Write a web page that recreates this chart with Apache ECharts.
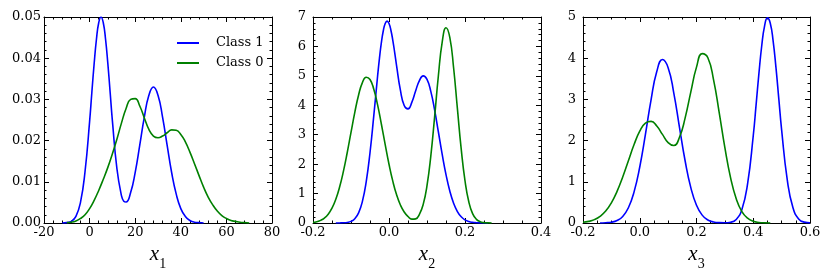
<!DOCTYPE html>
<html><head><meta charset="utf-8">
<script src="https://cdn.jsdelivr.net/npm/echarts@6/dist/echarts.min.js"></script>
<style>html,body{margin:0;padding:0;background:#fff}#c{width:831px;height:280px}</style>
</head><body><div id="c"></div>
<script>
// ---------- data ----------
const seriesNames = ['Class 1', 'Class 0'];

// panel 1 : x1
const x1Ticks = [-20, 0, 20, 40, 60, 80];
const x1Labels = ['-20', '0', '20', '40', '60', '80'];
const y1Ticks = [0, 0.01, 0.02, 0.03, 0.04, 0.05];
const y1Labels = ['0.00', '0.01', '0.02', '0.03', '0.04', '0.05'];
const x1Blue = [-12,-10,-8,-6,-4,-2,0,1,2,3,4,5,6,7,8,9,10,12,14,15,16,18,20,22,24,26,28,30,32,34,36,38,40,42,44,46,48,50];
const y1Blue = [0.0000,0.0001,0.0004,0.0016,0.0050,0.0125,0.0246,0.0318,0.0387,0.0446,0.0486,0.0500,0.0486,0.0446,0.0387,0.0318,0.0248,0.0131,0.0066,0.0053,0.0051,0.0074,0.0123,0.0189,0.0257,0.0310,0.0330,0.0310,0.0257,0.0189,0.0122,0.0070,0.0035,0.0016,0.0006,0.0002,0.0001,0.0000];
const x1Green = [-10,-8,-6,-4,-2,0,2,4,6,8,10,12,14,16,18,20,22,24,26,28,30,32,34,36,38,40,42,44,46,48,50,52,54,56,58,60,62,64,66,68,70];
const y1Green = [0.0001,0.0002,0.0005,0.0011,0.0020,0.0035,0.0055,0.0079,0.0106,0.0135,0.0168,0.0204,0.0243,0.0278,0.0300,0.0302,0.0284,0.0255,0.0227,0.0211,0.0207,0.0211,0.0219,0.0226,0.0225,0.0215,0.0197,0.0172,0.0144,0.0115,0.0087,0.0063,0.0044,0.0029,0.0018,0.0011,0.0006,0.0004,0.0002,0.0001,0.0000];

// panel 2 : x2
const x2Ticks = [-0.2, 0, 0.2, 0.4];
const x2Labels = ['-0.2', '0.0', '0.2', '0.4'];
const y2Ticks = [0, 1, 2, 3, 4, 5, 6, 7];
const y2Labels = ['0', '1', '2', '3', '4', '5', '6', '7'];
const x2Blue = [-0.14,-0.13,-0.12,-0.11,-0.10,-0.09,-0.08,-0.07,-0.06,-0.05,-0.04,-0.03,-0.025,-0.02,-0.015,-0.01,-0.005,0.00,0.005,0.01,0.015,0.02,0.03,0.04,0.05,0.06,0.07,0.08,0.09,0.10,0.11,0.12,0.13,0.14,0.15,0.16,0.17,0.18,0.19,0.20,0.21,0.22,0.23,0.24,0.25,0.26];
const y2Blue = [0.000,0.002,0.006,0.018,0.055,0.145,0.345,0.734,1.399,2.388,3.647,4.994,5.610,6.134,6.532,6.780,6.860,6.779,6.551,6.209,5.790,5.341,4.512,3.992,3.877,4.099,4.486,4.839,4.999,4.879,4.471,3.842,3.092,2.331,1.645,1.087,0.673,0.390,0.211,0.107,0.051,0.023,0.010,0.004,0.001,0.000];
const x2Green = [-0.20,-0.19,-0.18,-0.17,-0.16,-0.15,-0.14,-0.13,-0.12,-0.11,-0.10,-0.09,-0.08,-0.07,-0.06,-0.05,-0.04,-0.03,-0.02,-0.01,0.00,0.01,0.02,0.03,0.04,0.05,0.06,0.07,0.08,0.09,0.10,0.11,0.12,0.13,0.14,0.15,0.16,0.17,0.18,0.19,0.20,0.21,0.22,0.23,0.24,0.25,0.26,0.27];
const y2Green = [0.021,0.045,0.089,0.167,0.298,0.503,0.805,1.221,1.754,2.387,3.078,3.760,4.351,4.771,4.955,4.875,4.544,4.013,3.356,2.660,1.997,1.421,0.957,0.612,0.372,0.222,0.130,0.140,0.296,0.632,1.270,2.275,3.599,5.012,6.147,6.636,6.305,5.275,3.884,2.517,1.436,0.721,0.319,0.124,0.043,0.013,0.003,0.001];

// panel 3 : x3
const x3Ticks = [-0.2, 0, 0.2, 0.4, 0.6];
const x3Labels = ['-0.2', '0.0', '0.2', '0.4', '0.6'];
const y3Ticks = [0, 1, 2, 3, 4, 5];
const y3Labels = ['0', '1', '2', '3', '4', '5'];
const x3Blue = [-0.14,-0.12,-0.10,-0.08,-0.06,-0.04,-0.02,0.00,0.02,0.04,0.06,0.08,0.10,0.12,0.14,0.16,0.18,0.20,0.22,0.24,0.26,0.28,0.30,0.32,0.34,0.36,0.38,0.40,0.41,0.42,0.43,0.44,0.45,0.46,0.47,0.48,0.49,0.50,0.52,0.54,0.56,0.58,0.60];
const y3Blue = [0.001,0.006,0.020,0.061,0.160,0.370,0.756,1.359,2.151,2.997,3.675,3.968,3.770,3.154,2.322,1.505,0.859,0.431,0.191,0.074,0.025,0.008,0.005,0.018,0.087,0.327,0.950,2.118,2.866,3.631,4.308,4.786,4.978,4.849,4.420,3.777,3.020,2.262,1.041,0.369,0.100,0.021,0.003];
const x3Green = [-0.20,-0.18,-0.16,-0.14,-0.12,-0.10,-0.08,-0.06,-0.04,-0.02,0.00,0.02,0.04,0.06,0.08,0.10,0.12,0.14,0.16,0.18,0.20,0.22,0.24,0.26,0.28,0.30,0.32,0.34,0.36,0.38,0.40,0.42,0.44,0.46];
const y3Green = [0.017,0.039,0.082,0.160,0.290,0.489,0.767,1.117,1.512,1.904,2.228,2.427,2.467,2.355,2.150,1.950,1.880,2.080,2.552,3.183,3.783,4.111,4.010,3.482,2.680,1.828,1.102,0.588,0.277,0.116,0.043,0.014,0.004,0.001];

const axisNames = ['1', '2', '3'];

// ---------- chart construction ----------
const BLUE = '#0000ff', GREEN = '#008000';
const TICK_FONT = 'DejaVu Serif';
const grids = [
  { left: 44, top: 17, width: 228, height: 206 },
  { left: 313, top: 17, width: 228, height: 206 },
  { left: 583, top: 17, width: 227, height: 206 }
];
const panels = [
  { xt: x1Ticks, xl: x1Labels, yt: y1Ticks, yl: y1Labels, xMinor: 5, yMinor: 5, yMargin: 3,
    blue: [x1Blue, y1Blue], green: [x1Green, y1Green] },
  { xt: x2Ticks, xl: x2Labels, yt: y2Ticks, yl: y2Labels, xMinor: 4, yMinor: 5, yMargin: 7,
    blue: [x2Blue, y2Blue], green: [x2Green, y2Green] },
  { xt: x3Ticks, xl: x3Labels, yt: y3Ticks, yl: y3Labels, xMinor: 4, yMinor: 5, yMargin: 7,
    blue: [x3Blue, y3Blue], green: [x3Green, y3Green] }
];

function fmt(ticks, labels) {
  return function (v) {
    const i = ticks.findIndex(t => Math.abs(t - v) < 1e-9);
    return i >= 0 ? labels[i] : '';
  };
}
function baseAxis(gi, ticks, labels, minor, position, showLabel, margin) {
  return {
    type: 'value', gridIndex: gi, position: position,
    min: ticks[0], max: ticks[ticks.length - 1], interval: ticks[1] - ticks[0],
    axisLine: { show: true, onZero: false, lineStyle: { color: '#000', width: 1 } },
    axisTick: { show: true, inside: true, length: 5, lineStyle: { color: '#000', width: 1 } },
    minorTick: { show: true, splitNumber: minor, length: 2.5, lineStyle: { color: '#000', width: 1 } },
    splitLine: { show: false }, minorSplitLine: { show: false },
    axisLabel: { show: showLabel, margin: margin, color: '#000', fontFamily: TICK_FONT, fontSize: 13,
      formatter: fmt(ticks, labels), showMinLabel: true, showMaxLabel: true },
    axisPointer: { show: false }
  };
}

const xAxis = [], yAxis = [], series = [];
panels.forEach((p, gi) => {
  const xb = baseAxis(gi, p.xt, p.xl, p.xMinor, 'bottom', true, 3);
  xb.name = '{i|x}{s|' + axisNames[gi] + '}';
  xb.nameLocation = 'middle';
  xb.nameGap = 13;
  xb.nameTextStyle = { rich: {
    i: { fontFamily: 'Liberation Serif', fontStyle: 'italic', fontSize: 21, color: '#000' },
    s: { fontFamily: 'Liberation Serif', fontSize: 14, color: '#000', padding: [20, 0, 0, 0] }
  } };
  xAxis.push(xb);
  xAxis.push(baseAxis(gi, p.xt, p.xl, p.xMinor, 'top', false, 3));
  yAxis.push(baseAxis(gi, p.yt, p.yl, p.yMinor, 'left', true, p.yMargin));
  yAxis.push(baseAxis(gi, p.yt, p.yl, p.yMinor, 'right', false, 3));
  [[p.blue, BLUE, seriesNames[0]], [p.green, GREEN, seriesNames[1]]].forEach(([d, col, nm]) => {
    series.push({
      type: 'line', name: nm, xAxisIndex: gi * 2, yAxisIndex: gi * 2,
      data: d[0].map((x, k) => [x, d[1][k]]),
      showSymbol: false, symbol: 'none', smooth: 0.5,
      lineStyle: { color: col, width: 1.6 }, itemStyle: { color: col },
      clip: true, silent: true, z: 3
    });
  });
});

const chart = echarts.init(document.getElementById('c'), null, { renderer: 'canvas' });
chart.setOption({
  animation: false,
  backgroundColor: '#fff',
  grid: grids.map(g => Object.assign({ containLabel: false }, g)),
  legend: {
    data: seriesNames, orient: 'vertical', left: 172, top: 30,
    icon: 'rect', itemWidth: 22, itemHeight: 2, itemGap: 4,
    textStyle: { fontFamily: TICK_FONT, fontSize: 13, color: '#000', lineHeight: 16, padding: [0, 0, 0, 12] },
    selectedMode: false
  },
  xAxis: xAxis, yAxis: yAxis, series: series
});
</script></body></html>
